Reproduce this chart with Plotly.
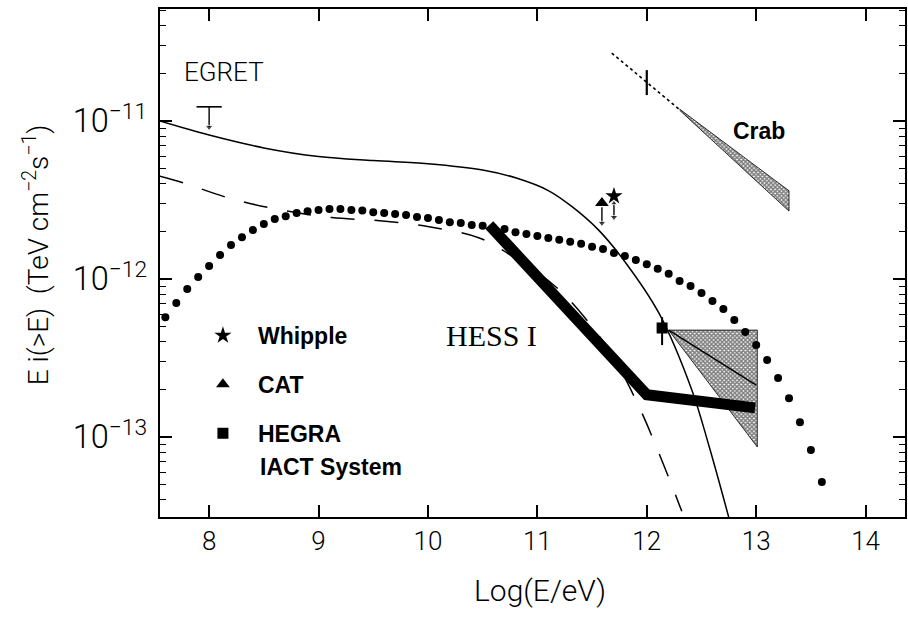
import numpy as np
import plotly.graph_objects as go

# ---------------- data ----------------
# model curve, solid
solid_x = [7.55, 8.0, 8.5, 9.0, 9.5, 10.0, 10.5, 10.8, 11.1, 11.32, 11.56, 11.81, 12.11, 12.41, 12.57, 12.75]
solid_y = [1.00e-11, 8.15e-12, 6.76e-12, 5.96e-12, 5.62e-12, 5.37e-12, 4.90e-12, 4.37e-12, 3.63e-12,
           2.86e-12, 2.04e-12, 1.26e-12, 6.10e-13, 2.00e-13, 8.71e-14, 3.09e-14]

# model curve, dashed
dash_x = [7.55, 7.76, 8.19, 8.64, 9.12, 9.56, 10.01, 10.47, 10.8, 11.17, 11.44, 11.7, 11.93, 12.11, 12.32]
dash_y = [4.47e-12, 4.07e-12, 3.24e-12, 2.75e-12, 2.45e-12, 2.34e-12, 2.14e-12, 1.82e-12, 1.35e-12,
          8.91e-13, 5.62e-13, 3.16e-13, 1.55e-13, 7.94e-14, 3.39e-14]

# model curve, dotted (large dots)
dot_x = [7.6, 7.7, 7.8, 7.9, 8.0, 8.1, 8.2, 8.3, 8.4, 8.5, 8.6, 8.7, 8.8, 8.9, 9.0, 9.1, 9.2, 9.3, 9.4, 9.5,
         9.6, 9.7, 9.8, 9.9, 10.0, 10.1, 10.2, 10.3, 10.4, 10.5, 10.6, 10.7, 10.8, 10.9, 11.0, 11.1, 11.2,
         11.3, 11.4, 11.5, 11.6, 11.7, 11.8, 11.9, 12.0, 12.1, 12.2, 12.3, 12.4, 12.5, 12.6, 12.7, 12.8,
         12.9, 13.0, 13.1, 13.2, 13.3, 13.4, 13.5, 13.6]
dot_y = [5.74e-13, 7.05e-13, 8.65e-13, 1.03e-12, 1.21e-12, 1.42e-12, 1.64e-12, 1.84e-12, 2.04e-12, 2.23e-12,
         2.40e-12, 2.50e-12, 2.62e-12, 2.69e-12, 2.73e-12, 2.77e-12, 2.77e-12, 2.73e-12, 2.71e-12, 2.65e-12,
         2.62e-12, 2.58e-12, 2.54e-12, 2.47e-12, 2.43e-12, 2.36e-12, 2.29e-12, 2.26e-12, 2.20e-12, 2.17e-12,
         2.10e-12, 2.07e-12, 1.98e-12, 1.93e-12, 1.87e-12, 1.82e-12, 1.77e-12, 1.72e-12, 1.67e-12, 1.60e-12,
         1.55e-12, 1.46e-12, 1.40e-12, 1.32e-12, 1.24e-12, 1.16e-12, 1.08e-12, 9.71e-13, 9.03e-13, 8.15e-13,
         7.26e-13, 6.46e-13, 5.50e-13, 4.62e-13, 3.82e-13, 3.07e-13, 2.36e-13, 1.76e-13, 1.24e-13, 8.27e-14,
         5.19e-14]

# HESS I sensitivity (thick line)
hess_x = [10.56, 12.0, 12.99]
hess_y = [2.2e-12, 1.85e-13, 1.53e-13]

# HEGRA IACT system: point, error bar and hatched region
hegra_x = [12.14]
hegra_y = [4.9e-13]
hegra_err_hi = [5.74e-13]
hegra_err_lo = [3.82e-13]
hegra_band_x = [12.2, 13.01, 13.01, 12.2]
hegra_band_y = [4.75e-13, 4.75e-13, 8.65e-14, 4.75e-13]
hegra_fit_x = [12.2, 13.0]
hegra_fit_y = [4.75e-13, 2.13e-13]

# Whipple and CAT points with their arrows
whipple_x = [11.70]
whipple_y = [3.35e-12]
whipple_arrow = [3.02e-12, 2.46e-12]
cat_x = [11.59]
cat_y = [3.03e-12]
cat_arrow = [2.85e-12, 2.26e-12]

# EGRET upper limit
egret_x = [8.0]
egret_y = [1.23e-11]
egret_arrow_to = 9.15e-12

# Crab
crab_line_x = [11.68, 12.3]
crab_line_y = [2.69e-11, 1.18e-11]
crab_err_x = [12.0, 12.0]
crab_err_y = [2.10e-11, 1.46e-11]
crab_band_x = [12.3, 12.6, 12.9, 13.3]
crab_band_hi = [1.19e-11, 8.29e-12, 5.82e-12, 3.62e-12]
crab_band_lo = [1.17e-11, 7.56e-12, 4.84e-12, 2.69e-12]

x_ticks = [8, 9, 10, 11, 12, 13, 14]

# ---------------- figure ----------------
W, H = 908, 619
L, R, T, B = 160, 1, 9, 102
PW, PH = W - L - R, H - T - B


def pxx(p):
    return (p - L) / PW


def pxy(p):
    return (H - B - p) / PH


THIN = "Roboto"
TICKFONT = dict(family=THIN, size=26, color="black", weight=300)
BOLD = dict(family="Liberation Sans", size=23, color="black", weight="bold")
HATCH = dict(shape="x", fgcolor="black", bgcolor="white", size=3, solidity=0.75)

fig = go.Figure()

# hatched areas
fig.add_trace(go.Scatter(x=hegra_band_x, y=hegra_band_y, mode="lines", fill="toself",
                         line=dict(color="black", width=0.8), fillcolor="rgba(0,0,0,0)",
                         fillpattern=HATCH, showlegend=False, hoverinfo="skip"))
fig.add_trace(go.Scatter(x=hegra_fit_x, y=hegra_fit_y, mode="lines", line=dict(color="black", width=1.5),
                         showlegend=False, hoverinfo="skip"))
fig.add_trace(go.Scatter(x=crab_band_x + crab_band_x[::-1], y=crab_band_hi + crab_band_lo[::-1],
                         mode="lines", fill="toself", line=dict(color="black", width=0.8),
                         fillcolor="rgba(0,0,0,0)", fillpattern=HATCH,
                         showlegend=False, hoverinfo="skip"))
fig.add_trace(go.Scatter(x=crab_line_x, y=crab_line_y, mode="lines",
                         line=dict(color="black", width=1.6, dash="dot"), showlegend=False))
fig.add_trace(go.Scatter(x=crab_err_x, y=crab_err_y, mode="lines",
                         line=dict(color="black", width=2.2), showlegend=False))

# model curves
fig.add_trace(go.Scatter(x=solid_x, y=solid_y, mode="lines", line=dict(color="black", width=1.5, shape="spline"),
                         showlegend=False))
fig.add_trace(go.Scatter(x=dash_x, y=dash_y, mode="lines",
                         line=dict(color="black", width=1.5, shape="spline", dash="24px,20px"),
                         showlegend=False))
fig.add_trace(go.Scatter(x=dot_x, y=dot_y, mode="markers", marker=dict(color="black", size=8),
                         showlegend=False))
fig.add_trace(go.Scatter(x=hess_x, y=hess_y, mode="lines", line=dict(color="black", width=11),
                         showlegend=False))


# arrows (line + arrow-head markers)
def arrow(x0, y_from, y_to, both=False):
    syms = ["triangle-up" if both else "line-ew", "triangle-down"]
    fig.add_trace(go.Scatter(x=[x0, x0], y=[y_from, y_to], mode="lines+markers",
                             line=dict(color="black", width=1.4),
                             marker=dict(symbol=syms, size=[6 if both else 0.1, 7], color="black"),
                             showlegend=False, hoverinfo="skip"))


arrow(whipple_x[0], whipple_arrow[0], whipple_arrow[1], both=True)
arrow(cat_x[0], cat_arrow[0], cat_arrow[1])
arrow(egret_x[0], egret_y[0], egret_arrow_to)

# data points (also legend)
fig.add_trace(go.Scatter(x=whipple_x, y=whipple_y, mode="markers", name="Whipple", legendgroup="a",
                         marker=dict(symbol="star", size=13, color="black")))
fig.add_trace(go.Scatter(x=cat_x, y=cat_y, mode="markers", name="CAT", legendgroup="b",
                         marker=dict(symbol="triangle-up", size=12, color="black")))
fig.add_trace(go.Scatter(x=hegra_x, y=hegra_y, mode="markers", name="HEGRA", legendgroup="c",
                         marker=dict(symbol="square", size=11, color="black"),
                         error_y=dict(type="data", symmetric=False,
                                      array=[hegra_err_hi[0] - hegra_y[0]],
                                      arrayminus=[hegra_y[0] - hegra_err_lo[0]],
                                      color="black", thickness=2, width=0)))
fig.add_trace(go.Scatter(x=egret_x, y=egret_y, mode="markers", showlegend=False,
                         marker=dict(symbol="line-ew", size=18, line=dict(color="black", width=1.6))))


# texts
def label(xp, yp, text, font, xanchor="center", angle=0):
    fig.add_annotation(x=pxx(xp), y=pxy(yp), xref="paper", yref="paper", text=text, showarrow=False,
                       xanchor=xanchor, yanchor="middle", textangle=angle, font=font)


label(224, 72, "EGRET", dict(family=THIN, size=26, color="black", weight=300))
label(761, 131, "Crab", BOLD)
label(492, 335, "HESS I", dict(family="Liberation Serif", size=30, color="black"))
label(541, 590, "Log(E/eV)", dict(family=THIN, size=30, color="black", weight=300))
label(36, 255, "E i(>E)  (TeV cm<sup>\u22122</sup>s<sup>\u22121</sup>)",
      dict(family=THIN, size=28, color="black", weight=300), angle=-90)
label(258, 467, "IACT System", BOLD, xanchor="left")

axis_common = dict(showline=True, linecolor="black", linewidth=1.5, mirror="allticks", ticks="inside",
                   ticklen=12, tickwidth=1.5, tickcolor="black", showgrid=False, zeroline=False,
                   tickfont=TICKFONT)

fig.update_xaxes(range=[7.551, 14.36], tickvals=x_ticks, **axis_common)
fig.update_yaxes(type="log", range=[-13.506, -10.291], dtick=1, exponentformat="power",
                 minor=dict(ticks="inside", ticklen=6, tickwidth=1.2, tickcolor="black", showgrid=False),
                 ticklabelstandoff=6, **axis_common)

fig.update_layout(
    width=W, height=H, margin=dict(l=L, r=R, t=T, b=B),
    paper_bgcolor="white", plot_bgcolor="white",
    legend=dict(x=pxx(188), y=pxy(314), xanchor="left", yanchor="top", font=BOLD,
                bgcolor="rgba(0,0,0,0)", tracegroupgap=16, itemwidth=60, valign="middle",
                traceorder="grouped"),
)

fig.write_html("out.html", config={"displayModeBar": False},
               post_script="document.body.style.margin='0';")
